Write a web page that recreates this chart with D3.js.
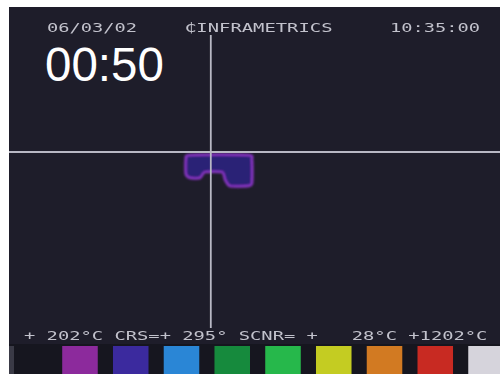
<!DOCTYPE html>
<html>
<head>
<meta charset="utf-8">
<script src="https://cdn.jsdelivr.net/npm/d3@7"></script>
<style>
body { margin: 0; background: #fff }
svg { display: block }
</style>
</head>
<body>
<script>
// overlay text
let header = ['06/03/02', '₵INFRAMETRICS', '10:35:00']
let clock = '00:50'
let readout = '+ 202°C CRS=+ 295° SCNR= +   28°C +1202°C'
// palette strip, left to right
let palette = ['#8c2c9c', '#3b2b9e', '#2a86d6', '#178a3c', '#28b84c', '#c4cc22', '#d27a22', '#c82a22', '#d6d4dc']
// crosshair and hot spot, in percent of the frame
let cross = {x: 41.1, y: 39.5}
let blob = [[36.9, 40.3], [48.7, 40.3], [49.5, 41.7], [49.5, 48.0], [48.7, 48.8], [45.0, 48.8], [44.0, 47.1],
            [43.4, 45.0], [39.9, 45.0], [38.9, 46.6], [36.9, 46.6], [36.0, 45.5], [36.0, 41.4]]

let frame_w = 500
let frame_h = 374
let margin_left = 9
let margin_top = 7
let char_w = 11.5
let header_x = [47, 185, 390]
let text_color = '#c2c2cc'

let x = d3.scaleLinear().domain([0, 100]).range([margin_left, frame_w])
let y = d3.scaleLinear().domain([0, 100]).range([margin_top, frame_h])
let band = d3.scaleBand()
    .domain(d3.range(palette.length))
    .range([54.6, 511.4])
    .paddingInner(0.3)
    .paddingOuter(0.15)

let svg = d3.select('body').append('svg')
    .attr('width', frame_w)
    .attr('height', frame_h)

function addBlur(id, amount) {
    defs.append('filter')
        .attr('id', id)
        .attr('filterUnits', 'userSpaceOnUse')
        .attr('x', 0)
        .attr('y', 0)
        .attr('width', frame_w)
        .attr('height', frame_h)
        .append('feGaussianBlur').attr('stdDeviation', amount)
}
let defs = svg.append('defs')
addBlur('soft', 0.6)
addBlur('glow', 1.2)

svg.append('rect')
    .attr('x', x(0))
    .attr('y', y(0))
    .attr('width', x(100) - x(0))
    .attr('height', y(100) - y(0))
    .attr('fill', '#1e1d2a')

// strip at the bottom
svg.append('rect')
    .attr('x', x(0))
    .attr('y', 344)
    .attr('width', x(100) - x(0))
    .attr('height', frame_h - 344)
    .attr('fill', '#16161f')
svg.append('rect')
    .attr('x', x(0))
    .attr('y', 346)
    .attr('width', 5)
    .attr('height', frame_h - 346)
    .attr('fill', '#3a3a46')
svg.append('g')
    .attr('filter', 'url(#soft)')
    .selectAll('rect')
    .data(palette)
    .enter()
    .append('rect')
    .attr('x', (d, i) => band(i))
    .attr('y', 346)
    .attr('width', band.bandwidth())
    .attr('height', frame_h - 346)
    .attr('fill', d => d)

// hot spot
let outline = d3.line()
    .x(d => x(d[0]))
    .y(d => y(d[1]))
    .curve(d3.curveCardinalClosed.tension(0.4))
svg.append('path')
    .attr('d', outline(blob))
    .attr('fill', '#2c2276')
    .attr('stroke', '#8a34c8')
    .attr('stroke-width', 2.5)
    .attr('filter', 'url(#glow)')

// crosshair
svg.append('line')
    .attr('x1', x(cross.x))
    .attr('x2', x(cross.x))
    .attr('y1', 35)
    .attr('y2', 328)
    .attr('stroke', '#b8b8c4')
    .attr('stroke-width', 1.8)
    .attr('filter', 'url(#soft)')
svg.append('line')
    .attr('x1', x(0))
    .attr('x2', x(100))
    .attr('y1', y(cross.y))
    .attr('y2', y(cross.y))
    .attr('stroke', '#b8b8c4')
    .attr('stroke-width', 2)
    .attr('filter', 'url(#soft)')

// overlay text
svg.append('g')
    .attr('filter', 'url(#soft)')
    .selectAll('text')
    .data(header)
    .enter()
    .append('text')
    .attr('x', (d, i) => header_x[i])
    .attr('y', 32)
    .attr('textLength', d => d.length * char_w - 2)
    .attr('lengthAdjust', 'spacingAndGlyphs')
    .attr('font-family', 'DejaVu Sans Mono')
    .attr('font-size', 13)
    .attr('fill', text_color)
    .text(d => d)

svg.append('text')
    .attr('x', 24)
    .attr('y', 340)
    .attr('textLength', readout.length * 11.4 - 4)
    .attr('lengthAdjust', 'spacingAndGlyphs')
    .attr('font-family', 'DejaVu Sans Mono')
    .attr('font-size', 11.5)
    .attr('fill', text_color)
    .attr('filter', 'url(#soft)')
    .style('white-space', 'pre')
    .text(readout)

svg.append('text')
    .attr('x', 45)
    .attr('y', 81)
    .attr('font-family', 'Liberation Sans, Arial, sans-serif')
    .attr('font-size', 47.5)
    .attr('fill', '#ffffff')
    .text(clock)
</script>
</body>
</html>
